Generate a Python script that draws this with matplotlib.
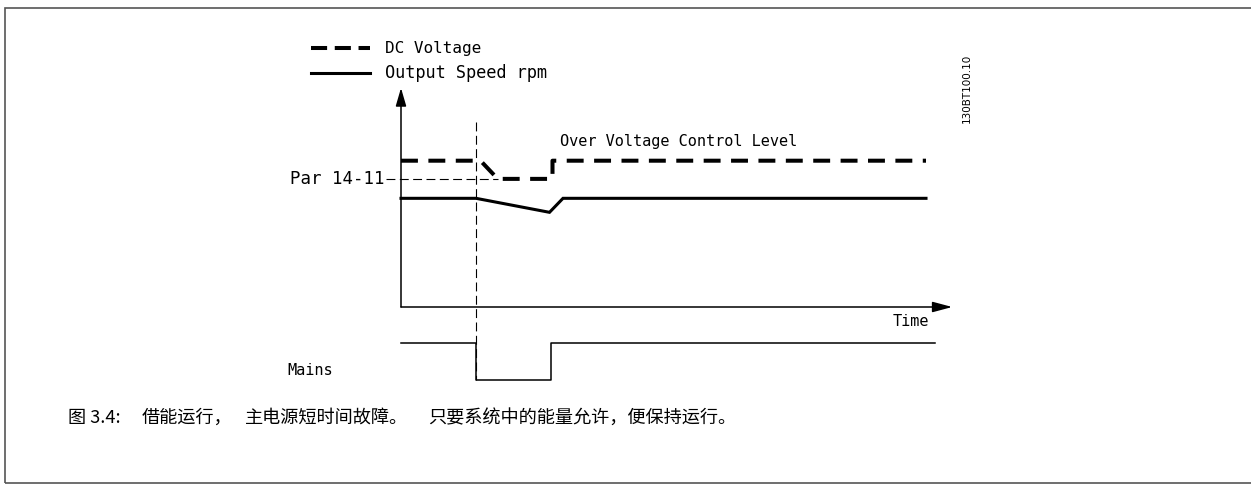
import matplotlib
matplotlib.use("Agg")
import matplotlib.pyplot as plt
from matplotlib.patches import Rectangle

# ---------------- data ----------------
dc_time = [0.0, 1.06, 1.29, 2.02, 2.02, 7.0]
dc_level = [70.0, 70.0, 61.3, 61.3, 70.0, 70.0]

speed_time = [0.0, 1.0, 1.98, 2.16, 7.0]
speed_level = [52.0, 52.0, 45.3, 52.0, 52.0]

mains_time = [0.0, 1.0, 1.0, 2.0, 2.0, 7.12]
mains_level = [-17.2, -17.2, -34.9, -34.9, -17.2, -17.2]

fault_start = 1.0
par_level = 61.3
axis_top = 104.8
time_end = 7.35

legend_labels = ["DC Voltage", "Output Speed rpm"]
par_label = "Par 14-11"
ovc_label = "Over Voltage Control Level"
time_label = "Time"
mains_label = "Mains"
doc_code = "130BT100.10"
caption_parts = ["图 3.4:", "借能运行，", "主电源短时间故障。", "只要系统中的能量允许，便保持运行。"]

# ---------------- layout ----------------
W, H = 1251, 484
X0_PX, T_PX = 401.0, 75.0      # pixel of t=0, pixels per time unit
Y0_PX, L_PX = 307.0, 2.09      # pixel of level 0, pixels per level unit

fig = plt.figure(figsize=(W / 100, H / 100), dpi=100)
fig.patch.set_facecolor("white")
ax = fig.add_axes([0, 0, 1, 1])
ax.set_xlim(-X0_PX / T_PX, (W - X0_PX) / T_PX)
ax.set_ylim(-(H - Y0_PX) / L_PX, Y0_PX / L_PX)
ax.axis("off")

mono = "DejaVu Sans Mono"
thick_dash = (4.2, 2.6)

# frame
fig.patches.append(Rectangle((5 / W, 1 - 483 / H), 1.2, (483 - 8) / H,
                             transform=fig.transFigure, fill=False,
                             edgecolor="#555555", linewidth=1.2))

# axes arrows
ax.annotate("", xy=(0, axis_top), xytext=(0, 0),
            arrowprops=dict(arrowstyle="-|>,head_length=1.1,head_width=0.32",
                            mutation_scale=10, lw=1.1, color="black",
                            shrinkA=0, shrinkB=0))
ax.annotate("", xy=(time_end, 0), xytext=(0, 0),
            arrowprops=dict(arrowstyle="-|>,head_length=1.2,head_width=0.32",
                            mutation_scale=10, lw=1.1, color="black",
                            shrinkA=0, shrinkB=0))

# vertical dashed marker of mains failure
ax.plot([fault_start, fault_start], [88.5, min(mains_level)], color="black",
        lw=0.8, dashes=(8, 4))

# Par 14-11 dashed reference
ax.plot([-0.2, dc_time[2]], [par_level, par_level], color="black", lw=0.8,
        dashes=(8, 4))
ax.text(-0.22, par_level, par_label, ha="right", va="center",
        fontsize=12.5, family=mono)

# curves
ax.plot(dc_time, dc_level, color="black", lw=2.9, dashes=thick_dash,
        solid_joinstyle="miter", dash_capstyle="butt")
ax.plot(speed_time, speed_level, color="black", lw=2.2,
        solid_joinstyle="miter")
ax.plot(mains_time, mains_level, color="black", lw=1.1)

# labels
ax.text(2.12, 79.0, ovc_label, ha="left", va="center", fontsize=11, family=mono)
ax.text(7.04, -6.7, time_label, ha="right", va="center", fontsize=11, family=mono)
ax.text(-1.51, -30.6, mains_label, ha="left", va="center", fontsize=11, family=mono)

# legend
ax.plot([-1.2, -0.41], [123.9, 123.9], color="black", lw=2.9, dashes=(4.0, 1.9))
ax.plot([-1.2, -0.41], [112.0, 112.0], color="black", lw=2.2)
ax.text(-0.21, 123.9, legend_labels[0], ha="left", va="center", fontsize=11.5, family=mono)
ax.text(-0.21, 112.0, legend_labels[1], ha="left", va="center", fontsize=12.2, family=mono)

# drawing code
fig.text(967 / W, 1 - 88 / H, doc_code, rotation=90, ha="center", va="center",
         fontsize=7.5, family="DejaVu Sans")

# caption (phrases placed as in the reference)
for part, xpx in zip(caption_parts, [68, 142, 245, 428]):
    fig.text(xpx / W, 1 - 418 / H, part, ha="left", va="center", fontsize=13.1,
             family=["Noto Sans CJK SC", "DejaVu Sans"])

fig.savefig("out.png", dpi=100)
